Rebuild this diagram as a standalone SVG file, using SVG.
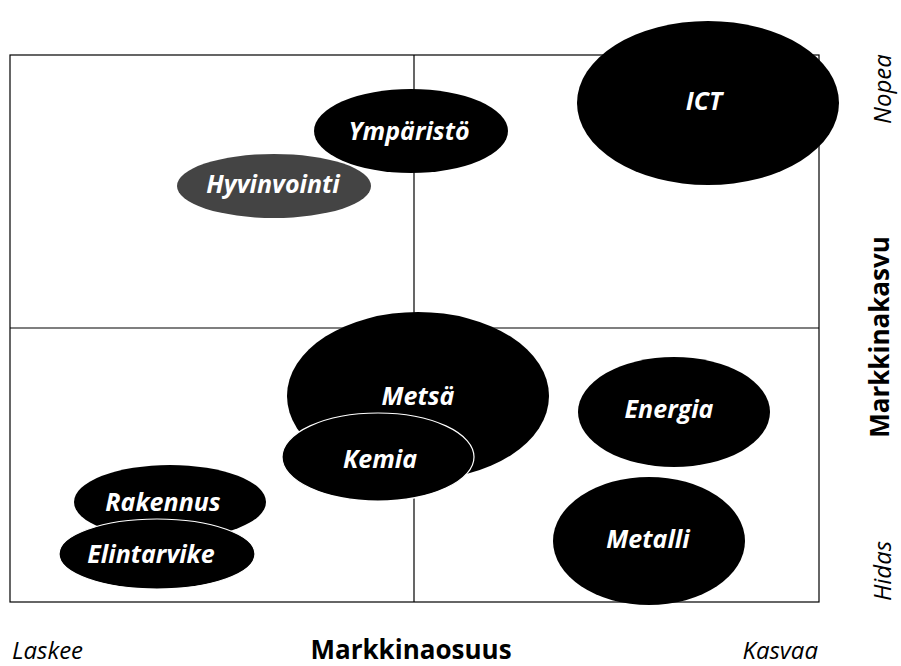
<svg xmlns="http://www.w3.org/2000/svg" width="901" height="666" viewBox="0 0 901 666">
<style>
.grid{fill:none;stroke:#000;stroke-width:1.2}
.blob{fill:#000}
.blobw{fill:#000;stroke:#fff;stroke-width:1.2}
.lbl{font-family:"Open Sans","Liberation Sans",sans-serif;font-weight:bold;font-style:italic;font-size:25px;fill:#fff;text-anchor:middle}
.ax{font-family:"Open Sans","Liberation Sans",sans-serif;font-style:italic;font-size:24px;fill:#000}
.axb{font-family:"Open Sans","Liberation Sans",sans-serif;font-weight:bold;font-size:26px;fill:#000;text-anchor:middle}
</style>
<rect width="901" height="666" fill="#fff"/>
<g id="connectors">
<rect class="grid" x="10" y="55" width="809" height="547"/>
<line class="grid" x1="414" y1="55" x2="414" y2="602"/>
<line class="grid" x1="10" y1="328" x2="819" y2="328"/>
</g>
<g id="ict"><ellipse class="blob" cx="708" cy="103" rx="131" ry="82"/><text class="lbl" x="704" y="110">ICT</text></g>
<g id="hyvinvointi"><ellipse cx="274" cy="186" rx="97" ry="32" fill="#444"/><text class="lbl" x="273" y="193">Hyvinvointi</text></g>
<g id="ymparisto"><ellipse class="blob" cx="411" cy="131" rx="97" ry="42"/><text class="lbl" x="409" y="140">Ympäristö</text></g>
<g id="metsa"><ellipse class="blob" cx="418" cy="396" rx="131" ry="84"/><text class="lbl" x="418" y="405">Metsä</text></g>
<g id="kemia"><ellipse class="blobw" cx="378" cy="457" rx="96" ry="44"/><text class="lbl" x="380" y="468">Kemia</text></g>
<g id="energia"><ellipse class="blob" cx="674" cy="412" rx="96" ry="55"/><text class="lbl" x="669" y="418">Energia</text></g>
<g id="metalli"><ellipse class="blob" cx="649" cy="541" rx="96" ry="64"/><text class="lbl" x="648" y="548">Metalli</text></g>
<g id="rakennus"><ellipse class="blob" cx="170" cy="502" rx="96" ry="37"/><text class="lbl" x="163" y="511">Rakennus</text></g>
<g id="elintarvike"><ellipse class="blobw" cx="157" cy="554" rx="98" ry="35"/><text class="lbl" x="151" y="563">Elintarvike</text></g>
<g id="axes">
<text class="ax" x="12" y="659">Laskee</text>
<text class="axb" x="411" y="659">Markkinaosuus</text>
<text class="ax" x="818" y="659" text-anchor="end">Kasvaa</text>
<text class="ax" transform="translate(891,89) rotate(-90)" text-anchor="middle">Nopea</text>
<text class="axb" transform="translate(889,337) rotate(-90)">Markkinakasvu</text>
<text class="ax" transform="translate(891,571) rotate(-90)" text-anchor="middle">Hidas</text>
</g>
</svg>
